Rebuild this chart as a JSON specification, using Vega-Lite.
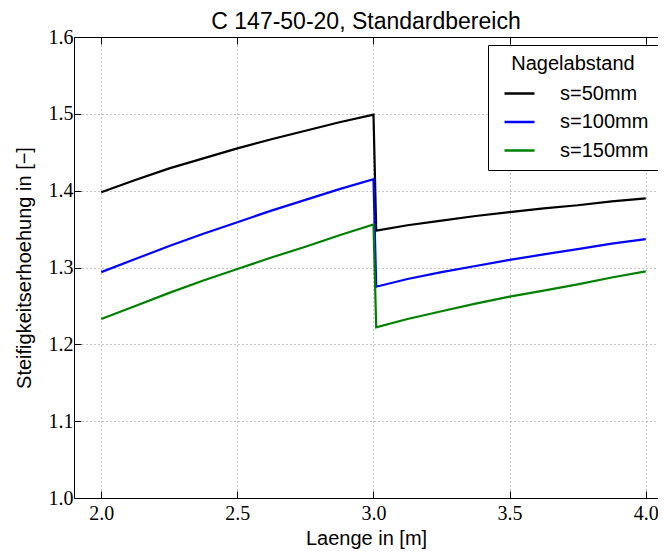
{
  "$schema": "https://vega.github.io/schema/vega-lite/v6.json",
  "autosize": {"type": "none"},
  "padding": {"left": 74, "top": 37, "right": 0, "bottom": 53},
  "width": 584,
  "height": 461,
  "background": "white",
  "title": {"text": "C 147-50-20, Standardbereich", "font": "Liberation Sans", "fontSize": 23, "fontWeight": "normal", "color": "black", "anchor": "middle", "offset": -7},
  "config": {
    "view": {"stroke": null},
    "axis": {"domainColor": "black", "domainWidth": 1, "tickColor": "black", "tickSize": -7, "tickWidth": 1,
             "labelFont": "Liberation Serif", "labelFontSize": 20, "labelColor": "black",
             "titleFont": "Liberation Sans", "titleFontSize": 20, "titleFontWeight": "normal", "titleColor": "black",
             "gridColor": "#000000", "gridOpacity": 0.45, "gridDash": [1, 3], "gridWidth": 1}
  },
  "data": {"values": [
    {"x": 2.0, "y": 1.398, "s": "s=50mm"}, {"x": 2.125, "y": 1.414, "s": "s=50mm"}, {"x": 2.25, "y": 1.429, "s": "s=50mm"}, {"x": 2.375, "y": 1.442, "s": "s=50mm"}, {"x": 2.5, "y": 1.455, "s": "s=50mm"}, {"x": 2.625, "y": 1.467, "s": "s=50mm"}, {"x": 2.75, "y": 1.478, "s": "s=50mm"}, {"x": 2.875, "y": 1.489, "s": "s=50mm"}, {"x": 3.0, "y": 1.499, "s": "s=50mm"},
    {"x": 3.01, "y": 1.348, "s": "s=50mm"}, {"x": 3.125, "y": 1.355, "s": "s=50mm"}, {"x": 3.25, "y": 1.361, "s": "s=50mm"}, {"x": 3.375, "y": 1.367, "s": "s=50mm"}, {"x": 3.5, "y": 1.372, "s": "s=50mm"}, {"x": 3.625, "y": 1.377, "s": "s=50mm"}, {"x": 3.75, "y": 1.381, "s": "s=50mm"}, {"x": 3.875, "y": 1.386, "s": "s=50mm"}, {"x": 4.0, "y": 1.390, "s": "s=50mm"},
    {"x": 2.0, "y": 1.294, "s": "s=100mm"}, {"x": 2.125, "y": 1.311, "s": "s=100mm"}, {"x": 2.25, "y": 1.328, "s": "s=100mm"}, {"x": 2.375, "y": 1.344, "s": "s=100mm"}, {"x": 2.5, "y": 1.359, "s": "s=100mm"}, {"x": 2.625, "y": 1.374, "s": "s=100mm"}, {"x": 2.75, "y": 1.388, "s": "s=100mm"}, {"x": 2.875, "y": 1.402, "s": "s=100mm"}, {"x": 3.0, "y": 1.415, "s": "s=100mm"},
    {"x": 3.01, "y": 1.275, "s": "s=100mm"}, {"x": 3.125, "y": 1.285, "s": "s=100mm"}, {"x": 3.25, "y": 1.294, "s": "s=100mm"}, {"x": 3.375, "y": 1.302, "s": "s=100mm"}, {"x": 3.5, "y": 1.310, "s": "s=100mm"}, {"x": 3.625, "y": 1.317, "s": "s=100mm"}, {"x": 3.75, "y": 1.324, "s": "s=100mm"}, {"x": 3.875, "y": 1.331, "s": "s=100mm"}, {"x": 4.0, "y": 1.337, "s": "s=100mm"},
    {"x": 2.0, "y": 1.233, "s": "s=150mm"}, {"x": 2.125, "y": 1.250, "s": "s=150mm"}, {"x": 2.25, "y": 1.267, "s": "s=150mm"}, {"x": 2.375, "y": 1.283, "s": "s=150mm"}, {"x": 2.5, "y": 1.298, "s": "s=150mm"}, {"x": 2.625, "y": 1.313, "s": "s=150mm"}, {"x": 2.75, "y": 1.327, "s": "s=150mm"}, {"x": 2.875, "y": 1.342, "s": "s=150mm"}, {"x": 3.0, "y": 1.356, "s": "s=150mm"},
    {"x": 3.01, "y": 1.222, "s": "s=150mm"}, {"x": 3.125, "y": 1.233, "s": "s=150mm"}, {"x": 3.25, "y": 1.243, "s": "s=150mm"}, {"x": 3.375, "y": 1.253, "s": "s=150mm"}, {"x": 3.5, "y": 1.262, "s": "s=150mm"}, {"x": 3.625, "y": 1.270, "s": "s=150mm"}, {"x": 3.75, "y": 1.278, "s": "s=150mm"}, {"x": 3.875, "y": 1.287, "s": "s=150mm"}, {"x": 4.0, "y": 1.295, "s": "s=150mm"}
  ]},
  "layer": [
    {
      "mark": {"type": "line", "strokeWidth": 2.2, "clip": true},
      "encoding": {
        "x": {"field": "x", "type": "quantitative", "scale": {"domain": [1.9, 4.045], "nice": false, "zero": false},
              "axis": {"values": [2.0, 2.5, 3.0, 3.5, 4.0], "format": ".1f", "title": "Laenge in [m]", "labelPadding": 12, "titlePadding": 5, "grid": true}},
        "y": {"field": "y", "type": "quantitative", "scale": {"domain": [1.0, 1.6], "nice": false, "zero": false},
              "axis": {"values": [1.0, 1.1, 1.2, 1.3, 1.4, 1.5, 1.6], "format": ".1f", "title": "Steifigkeitserhoehung in [−]", "labelPadding": 8, "titlePadding": 14, "grid": true}},
        "color": {"field": "s", "type": "nominal", "sort": null,
                  "scale": {"domain": ["s=50mm", "s=100mm", "s=150mm"], "range": ["#000000", "#0000ff", "#008000"]},
                  "legend": {"title": "Nagelabstand", "orient": "none", "legendX": 414, "legendY": 8, "symbolType": "stroke", "symbolSize": 900, "symbolStrokeWidth": 2.5, "symbolOffset": 6,
                             "labelFont": "Liberation Sans", "labelFontSize": 20, "labelColor": "black", "labelOffset": 24,
                             "titleFont": "Liberation Sans", "titleFontSize": 20, "titleFontWeight": "normal", "titleColor": "black", "titleAnchor": "middle", "titlePadding": 3,
                             "fillColor": "white", "strokeColor": "black", "padding": 9, "rowPadding": 1.5, "cornerRadius": 0}}
      }
    },
    {
      "mark": {"type": "line", "strokeOpacity": 0},
      "encoding": {
        "x": {"field": "x", "type": "quantitative", "axis": {"orient": "top", "values": [2.0, 2.5, 3.0, 3.5, 4.0], "labels": false, "title": null, "grid": false, "minExtent": 0, "maxExtent": 0}},
        "y": {"field": "y", "type": "quantitative", "axis": null}
      }
    }
  ],
  "resolve": {"axis": {"x": "independent", "y": "independent"}}
}
